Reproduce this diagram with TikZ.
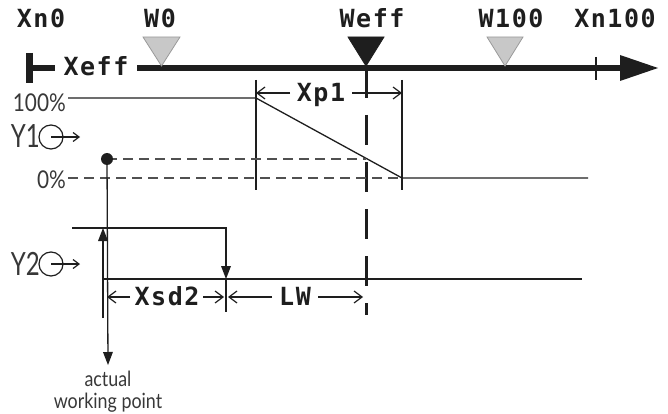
\documentclass[tikz,border=0pt]{standalone}
\usepackage{fontspec}
\usetikzlibrary{arrows.meta}
\newfontfamily\pixfont[LetterSpace=6]{DejaVu Sans Mono}
\newfontfamily\labfont[FakeStretch=0.85]{Lato}
\newfontfamily\bigfont[FakeStretch=0.75]{Lato}
\definecolor{ink}{HTML}{1E1E1E}
\definecolor{txtgray}{HTML}{383838}
\definecolor{trigray}{HTML}{C8C8C8}
\definecolor{triedge}{HTML}{9A9A9A}
\definecolor{dashgray}{HTML}{505050}
\tikzset{
  pixlab/.style={font=\pixfont\bfseries\fontsize{25pt}{27pt}\selectfont, text=ink, inner sep=0pt, anchor=base},
  biglab/.style={font=\bigfont\fontsize{32pt}{34pt}\selectfont, text=txtgray, inner sep=0pt, anchor=base east},
  pctlab/.style={font=\labfont\fontsize{24.5pt}{26pt}\selectfont, text=txtgray, inner sep=0pt, anchor=base east},
  smalllab/.style={font=\labfont\fontsize{21pt}{23pt}\selectfont, text=txtgray, inner sep=0pt, anchor=base},
  thin/.style={line width=1.3pt, draw=ink},
  thindash/.style={line width=1.3pt, draw=dashgray, dash pattern=on 10pt off 6pt},
  openarrow/.style={thin, -{Straight Barb[length=8pt,width=12pt,line width=1.2pt]}},
  fullarrow/.style={thin, -{Triangle[length=13pt,width=10pt,line width=0pt]}},
  marker/.style={line width=0.8pt},
  symcircle/.style={circle, draw=ink, line width=1.2pt, minimum size=24pt, inner sep=0pt}
}
\begin{document}
\begin{tikzpicture}[x=1pt,y=-1pt]
\useasboundingbox (0,0) rectangle (668,414);

% top labels
\node[pixlab] (xn0) at (41,28) {Xn0};
\node[pixlab] (w0l) at (160,28) {W0};
\node[pixlab] (weffl) at (372,28) {Weff};
\node[pixlab] (w100l) at (511,28) {W100};
\node[pixlab] (xn100l) at (615,28) {Xn100};

% axis
\coordinate (barT) at (29,53);
\coordinate (barB) at (29,83);
\coordinate (barM) at (26,68);
\coordinate (barE) at (55,68);
\draw[line width=7pt, draw=ink] (barT) -- (barB);
\draw[line width=6pt, draw=ink] (barM) -- (barE);
\node[pixlab] (xeff) at (96,76) {Xeff};
\coordinate (axL) at (137,68);
\coordinate (axR) at (658,68);
\draw[line width=6pt, draw=ink, -{Triangle[length=38pt,width=26pt,line width=0pt]}] (axL) -- (axR);
\coordinate (tkT) at (596,57);
\coordinate (tkB) at (596,80);
\draw[thin] (tkT) -- (tkB);

% markers
\draw[marker, fill=trigray, draw=triedge] (143,37) -- (180,37) -- (161.5,66) -- cycle;
\draw[marker, fill=ink, draw=ink] (348,37) -- (384,37) -- (366,66) -- cycle;
\draw[marker, fill=trigray, draw=triedge] (487,37) -- (523,37) -- (505,66) -- cycle;

% Weff dashed line
\coordinate (wdT) at (366,68);
\coordinate (wdB) at (366,315);
\draw[line width=3pt, draw=ink, dash pattern=on 30pt off 17pt] (wdT) -- (wdB);

% Y1 characteristic
\node[pctlab] (p100) at (66,112) {100\%};
\node[pctlab] (p0) at (66,188) {0\%};
\node[biglab] (y1) at (40,148) {Y1};
\node[symcircle] (y1c) at (51,137) {};
\coordinate (y1a) at (80,137);
\draw[openarrow, -{Straight Barb[length=6pt,width=9pt,line width=1.2pt]}] (y1c.center) -- (y1a);

\coordinate (l100a) at (68,98);
\coordinate (l100b) at (256,98);
\coordinate (l0a) at (402,178);
\coordinate (l0b) at (588,178);
\coordinate (l0s) at (68,178);
\draw[thin] (l100a) -- (l100b) -- (l0a) -- (l0b);
\draw[thindash] (l0s) -- (l0a);
\coordinate (vlT) at (256,80);
\coordinate (vlB) at (256,190);
\coordinate (vrT) at (402,80);
\coordinate (vrB) at (402,190);
\draw[thin] (vlT) -- (vlB);
\draw[thin] (vrT) -- (vrB);

\coordinate (dot) at (107,159);
\coordinate (dotE) at (366,159);
\draw[thindash] (dot) -- (dotE);
\fill[ink] (dot) circle (6);

% Xp1 dimension
\node[pixlab] (xp1) at (321,102) {Xp1};
\coordinate (xpL) at (256,93);
\coordinate (xpLs) at (290,93);
\coordinate (xpR) at (402,93);
\coordinate (xpRs) at (352,93);
\draw[openarrow] (xpLs) -- (xpL);
\draw[openarrow] (xpRs) -- (xpR);

% Y2 characteristic
\node[biglab] (y2) at (40,275) {Y2};
\node[symcircle] (y2c) at (51,264) {};
\coordinate (y2a) at (80,264);
\draw[openarrow, -{Straight Barb[length=6pt,width=9pt,line width=1.2pt]}] (y2c.center) -- (y2a);

\coordinate (upL) at (72,228);
\coordinate (upR) at (226,228);
\coordinate (dnR) at (226,279);
\draw[fullarrow] (upL) -- (upR) -- (dnR);
\coordinate (loL) at (103,279);
\coordinate (loR) at (582,279);
\draw[thin] (loL) -- (loR);
\coordinate (upB) at (103,318);
\coordinate (upT) at (103,228);
\draw[fullarrow] (upB) -- (upT);
\coordinate (awp) at (108,365);
\draw[fullarrow] (dot) -- (awp);
\coordinate (mtB) at (226,312);
\draw[thin] (dnR) -- (mtB);

% Xsd2 and LW dimensions
\node[pixlab] (xsd2) at (167,305) {Xsd2};
\node[pixlab] (lw) at (295,305) {LW};
\coordinate (xsL) at (107,297);
\coordinate (xsLs) at (130,297);
\coordinate (xsR) at (224,297);
\coordinate (xsRs) at (203,297);
\coordinate (lwL) at (228,297);
\coordinate (lwLs) at (272,297);
\coordinate (lwR) at (363,297);
\coordinate (lwRs) at (318,297);
\draw[openarrow] (xsLs) -- (xsL);
\draw[openarrow] (xsRs) -- (xsR);
\draw[openarrow] (lwLs) -- (lwL);
\draw[openarrow] (lwRs) -- (lwR);

% actual working point
\node[smalllab] (act1) at (108,386) {actual};
\node[smalllab] (act2) at (108,408) {working point};
\end{tikzpicture}
\end{document}
